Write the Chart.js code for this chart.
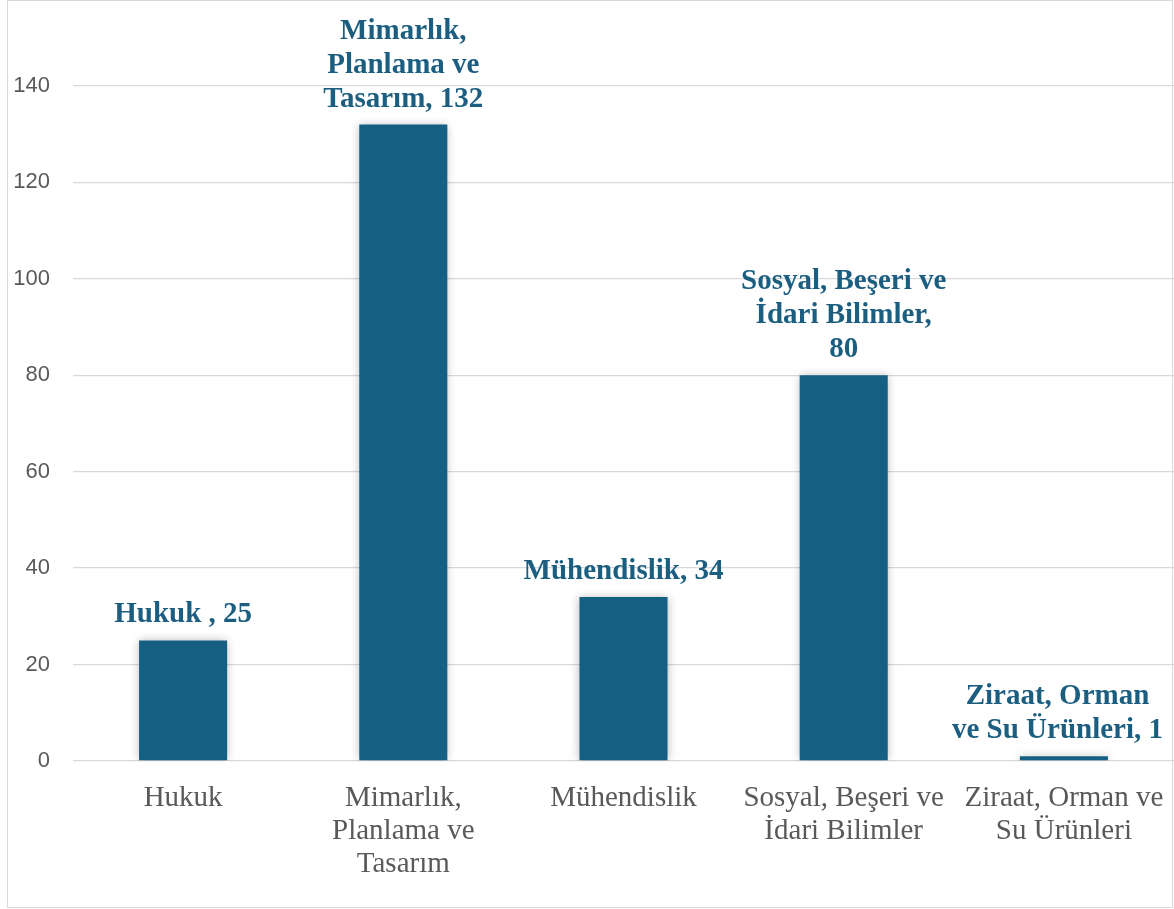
<!DOCTYPE html>
<html lang="tr">
<head>
<meta charset="utf-8">
<title>Alanlara göre dağılım</title>
<script src="https://cdn.jsdelivr.net/npm/chart.js@4.4.1/dist/chart.umd.min.js"></script>
<style>
  html, body { margin: 0; padding: 0; background: #fff; }
  #wrap { position: relative; width: 1174px; height: 909px; overflow: hidden; }
  #frame {
    position: absolute; left: 7px; top: -0.5px; width: 1166px; height: 908px;
    border: 1.5px solid #d9d9d9; box-sizing: border-box; pointer-events: none;
  }
  #chart { position: absolute; left: 0; top: 0; }
</style>
</head>
<body>
<div id="wrap">
  <canvas id="chart" width="1174" height="909"></canvas>
  <div id="frame"></div>
</div>
<script>
// categories (axis labels, wrapped like the original)
const categories = [
  "Hukuk",
  ["Mimarlık,", "Planlama ve", "Tasarım"],
  "Mühendislik",
  ["Sosyal, Beşeri ve", "İdari Bilimler"],
  ["Ziraat, Orman ve", "Su Ürünleri"]
];
const counts = [25, 132, 34, 80, 1];

// text above each bar; the value gets appended to the last line
const valueLabelLines = [
  ["Hukuk , "],
  ["Mimarlık,", "Planlama ve", "Tasarım, "],
  ["Mühendislik, "],
  ["Sosyal, Beşeri ve", "İdari Bilimler,", ""],
  ["Ziraat, Orman", "ve Su Ürünleri, "]
];

const yMin = 0, yMax = 140, yStep = 20;

const BAR = "#156082";
const LABEL = "#1b5e80";
const GRID = "#d9d9d9";
const TICK = "#595959";

// soft shadow around the bars
const barShadow = {
  id: "barShadow",
  beforeDatasetDraw(chart) {
    const ctx = chart.ctx;
    ctx.save();
    ctx.shadowColor = "rgba(0,0,0,0.28)";
    ctx.shadowBlur = 9;
    ctx.shadowOffsetX = 0;
    ctx.shadowOffsetY = 0;
  },
  afterDatasetDraw(chart) {
    chart.ctx.restore();
  }
};

// bold value labels stacked above the bars, kept inside the frame
const valueLabels = {
  id: "valueLabels",
  afterDatasetsDraw(chart) {
    const ctx = chart.ctx;
    const meta = chart.getDatasetMeta(0);
    const lineGap = 34;
    const rightLimit = chart.width - 11;
    ctx.save();
    ctx.font = "bold 29px 'Liberation Serif', 'Times New Roman', serif";
    ctx.fillStyle = LABEL;
    ctx.textAlign = "center";
    ctx.textBaseline = "alphabetic";
    meta.data.forEach((bar, i) => {
      const lines = valueLabelLines[i].slice();
      lines[lines.length - 1] += counts[i];
      const widest = Math.max(...lines.map(t => ctx.measureText(t).width));
      const cx = Math.min(bar.x, rightLimit - widest / 2);
      let y = bar.y - 18;
      for (let k = lines.length - 1; k >= 0; k--) {
        ctx.fillText(lines[k], cx, y);
        y -= lineGap;
      }
    });
    ctx.restore();
  }
};

new Chart(document.getElementById("chart").getContext("2d"), {
  type: "bar",
  data: {
    labels: categories,
    datasets: [{
      data: counts,
      backgroundColor: BAR,
      borderWidth: 0,
      barPercentage: 0.4,
      categoryPercentage: 1
    }]
  },
  options: {
    responsive: false,
    animation: false,
    layout: { padding: { top: 86, right: 0, left: 0, bottom: 0 } },
    plugins: {
      legend: { display: false },
      tooltip: { enabled: false }
    },
    scales: {
      x: {
        grid: { display: false, drawTicks: false },
        border: { display: false },
        afterFit(scale) {
          scale.height = 148;
          scale.paddingRight = 0;
          scale.paddingLeft = 0;
        },
        ticks: {
          color: TICK,
          padding: 21,
          maxRotation: 0,
          autoSkip: false,
          font: { family: "'Liberation Serif', 'Times New Roman', serif", size: 29, lineHeight: 1.13 }
        }
      },
      y: {
        min: yMin,
        max: yMax,
        grid: { color: GRID, lineWidth: 1.3, drawTicks: false },
        border: { display: false },
        afterFit(scale) { scale.width = 73; },
        ticks: {
          stepSize: yStep,
          color: TICK,
          padding: 23,
          font: { family: "'Liberation Sans', Arial, sans-serif", size: 22 }
        }
      }
    }
  },
  plugins: [barShadow, valueLabels]
});
</script>
</body>
</html>
